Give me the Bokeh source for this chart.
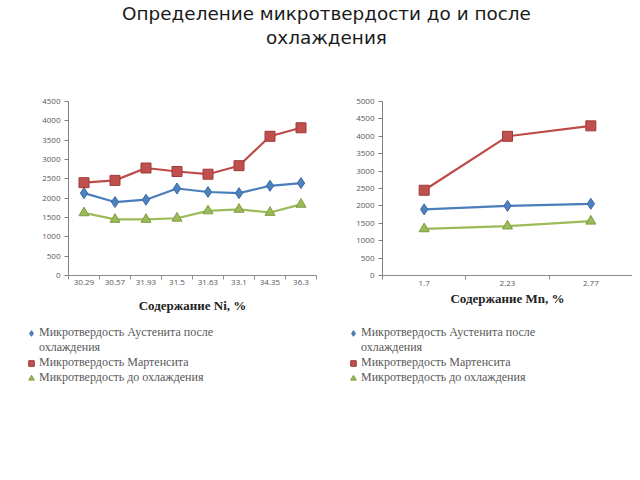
from bokeh.plotting import figure
from bokeh.models import Range1d, FixedTicker, Legend, LegendItem, Label
from bokeh.layouts import column, row
from bokeh.embed import file_html
from bokeh.resources import INLINE

# ---------------- data ----------------
title_lines = ["Определение микротвердости до и после", "охлаждения"]

ni_labels = ["30.29", "30.57", "31.93", "31.5", "31.63", "33.1", "34.35", "36.3"]
ni_austenite = [2130, 1900, 1960, 2250, 2160, 2130, 2320, 2390]
ni_martensite = [2400, 2460, 2780, 2690, 2620, 2840, 3600, 3820]
ni_before = [1620, 1450, 1450, 1480, 1670, 1710, 1630, 1840]
ni_yticks = [0, 500, 1000, 1500, 2000, 2500, 3000, 3500, 4000, 4500]

mn_labels = ["1.7", "2.23", "2.77"]
mn_austenite = [1900, 2000, 2060]
mn_martensite = [2450, 4000, 4300]
mn_before = [1340, 1420, 1560]
mn_yticks = [0, 500, 1000, 1500, 2000, 2500, 3000, 3500, 4000, 4500, 5000]

legend_labels = ["Микротвердость Аустенита после\nохлаждения",
                 "Микротвердость Мартенсита",
                 "Микротвердость до охлаждения"]

# ---------------- styles ----------------
STYLES = [
    dict(line="#4a7ebb", marker="diamond", fill="#4f81bd", mline="#3b6aa8", size=11, lsize=8),
    dict(line="#be4b48", marker="square", fill="#c0504d", mline="#9e3a37", size=10, lsize=6),
    dict(line="#9bbb59", marker="triangle", fill="#9bbb59", mline="#7f9b45", size=10, lsize=7),
]

TOTAL_W = 632
CHART_H = 265
LEG_H = 80
NAN = float("nan")


def make_chart(labels, series, yticks, axis_title, g):
    n = len(labels)
    p = figure(width=g["w"], height=CHART_H,
               min_border_left=g["bl"], min_border_right=g["br"],
               min_border_top=g["bt"], min_border_bottom=CHART_H - g["bt"] - g["fh"],
               x_range=Range1d(0, n), y_range=Range1d(yticks[0], yticks[-1]),
               output_backend="svg", toolbar_location=None)
    p.outline_line_color = None
    p.grid.visible = False

    xs = [i + 0.5 for i in range(n)]
    for vals, st in zip(series, STYLES):
        p.line(xs, vals, line_color=st["line"], line_width=2.2)
        p.scatter(xs, vals, marker=st["marker"], size=st["size"],
                  fill_color=st["fill"], line_color=st["mline"], line_width=1)

    # x axis: ticks at category boundaries, labels at centres
    xa = p.xaxis[0]
    xa.ticker = FixedTicker(ticks=xs, minor_ticks=list(range(n + 1)))
    xa.major_label_overrides = {x: l for x, l in zip(xs, labels)}
    xa.major_tick_out = 0
    xa.major_tick_in = 0
    xa.minor_tick_out = 4
    xa.minor_tick_in = 0
    xa.minor_tick_line_color = "#8c8c8c"
    xa.axis_line_color = "#8c8c8c"
    xa.major_label_text_font = "Open Sans"
    xa.major_label_text_font_size = "8px"
    xa.major_label_text_color = "#595959"
    xa.major_label_standoff = g["xls"]
    xa.axis_label = axis_title
    xa.axis_label_text_font = "Liberation Serif"
    xa.axis_label_text_font_style = "bold"
    xa.axis_label_text_font_size = "13px"
    xa.axis_label_text_color = "#222222"
    xa.axis_label_standoff = g["als"]

    ya = p.yaxis[0]
    ya.ticker = FixedTicker(ticks=yticks)
    ya.major_tick_out = 4
    ya.major_tick_in = 0
    ya.minor_tick_out = 0
    ya.minor_tick_in = 0
    ya.axis_line_color = "#7f7f7f"
    ya.major_tick_line_color = "#7f7f7f"
    ya.major_label_text_font = "Open Sans"
    ya.major_label_text_font_size = "8px"
    ya.major_label_text_color = "#595959"
    ya.major_label_standoff = 4
    return p


p1 = make_chart(ni_labels, [ni_austenite, ni_martensite, ni_before], ni_yticks,
                "Содержание Ni, %",
                dict(w=340, bl=68, br=24, bt=39, fh=176, xls=0, als=10))
p2 = make_chart(mn_labels, [mn_austenite, mn_martensite, mn_before], mn_yticks,
                "Содержание Mn, %",
                dict(w=TOTAL_W - 340, bl=42, br=0, bt=41, fh=179, xls=1, als=2))

# legend strip spanning both charts: one legend under each chart
pl = figure(width=TOTAL_W, height=LEG_H, x_range=Range1d(0, 1), y_range=Range1d(0, 1),
            min_border=0, x_axis_location=None, y_axis_location=None,
            output_backend="svg", toolbar_location=None)
pl.grid.visible = False
pl.outline_line_color = None


def add_legend(loc):
    # a blank swatch for the wrapped continuation line of a label
    blank = pl.scatter(x=[NAN], y=[NAN], marker="square", size=1,
                       fill_alpha=0, line_alpha=0)
    items = []
    for st, lab in zip(STYLES, legend_labels):
        r = pl.scatter(x=[NAN], y=[NAN], marker=st["marker"], size=st["lsize"],
                       fill_color=st["fill"], line_color=st["mline"], line_width=1)
        parts = lab.split("\n")
        items.append(LegendItem(label=parts[0], renderers=[r]))
        for extra in parts[1:]:
            items.append(LegendItem(label=extra, renderers=[blank]))
    leg = Legend(items=items, location=loc, orientation="vertical",
                 background_fill_alpha=0, border_line_color=None,
                 padding=0, margin=0, spacing=0,
                 glyph_width=14, glyph_height=14, label_height=14, label_standoff=1,
                 label_text_font="Liberation Serif", label_text_font_size="12px",
                 label_text_color="#595959")
    pl.add_layout(leg, "center")


add_legend((24, 20))
add_legend((346, 20))

# title strip
pt = figure(width=TOTAL_W, height=60, x_range=Range1d(0, TOTAL_W), y_range=Range1d(60, 0),
            min_border=0, output_backend="svg", toolbar_location=None)
pt.axis.visible = False
pt.grid.visible = False
pt.outline_line_color = None
for ypos, txt in zip([13, 37], title_lines):
    pt.add_layout(Label(x=326, y=ypos, text=txt, text_align="center",
                        text_baseline="alphabetic", text_font="DejaVu Sans",
                        text_font_size="18.4px", text_color="#1a1a1a"))

layout = column(pt, row(p1, p2, spacing=0), pl, spacing=0)

open("out.html", "w").write(file_html(layout, INLINE))
